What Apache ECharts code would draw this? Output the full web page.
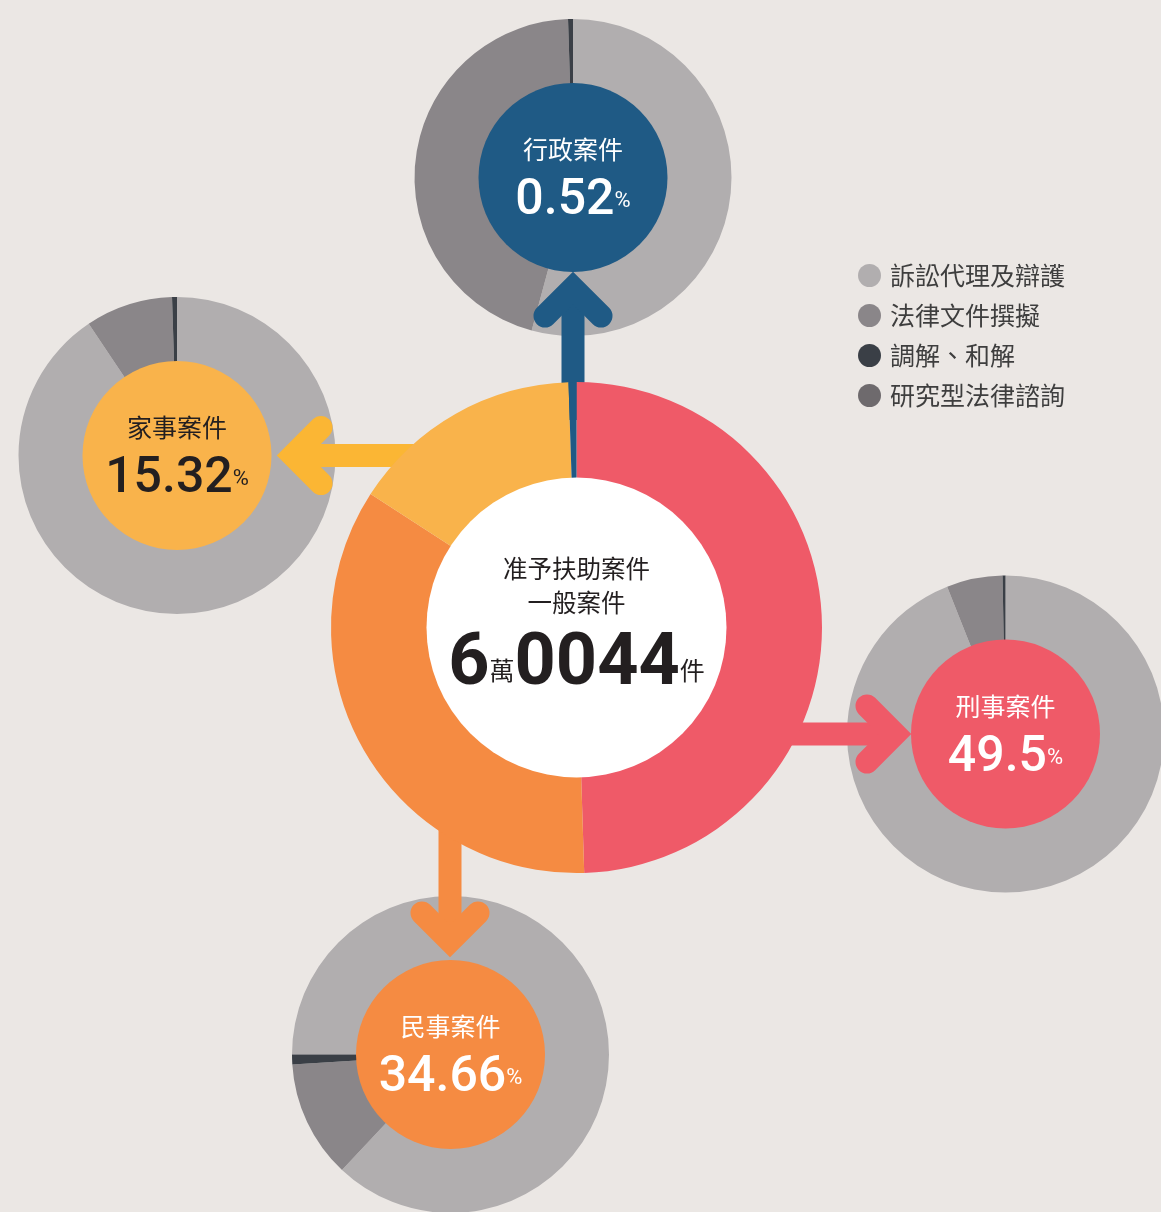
<!DOCTYPE html>
<html>
<head>
<meta charset="utf-8">
<title>准予扶助案件</title>
<script src="https://cdn.jsdelivr.net/npm/echarts@6/dist/echarts.min.js"></script>
<style>
html, body { margin: 0; padding: 0; background: #ebe7e4; }
#main { width: 1161px; height: 1212px; }
</style>
</head>
<body>
<div id="main"></div>
<script>
// 一般案件類型佔比 (%)
const caseTypes = ['刑事案件', '民事案件', '家事案件', '行政案件'];
const caseShares = [49.5, 34.66, 15.32, 0.52];
const totalCases = 60044;

// 各類案件的扶助方式佔比 (%)
const serviceTypes = ['訴訟代理及辯護', '法律文件撰擬', '調解、和解', '研究型法律諮詢'];
const criminalServices = [94.0, 5.7, 0.3, 0];
const civilServices = [87.0, 12.0, 1.0, 0];
const familyServices = [90.6, 8.9, 0.5, 0];
const adminServices = [54.2, 45.3, 0.5, 0];

const cjk = '"Noto Sans CJK TC", "Noto Sans CJK SC", sans-serif';
const num = 'Roboto, "Noto Sans", sans-serif';
const serviceColors = ['#b1aeaf', '#8a8689', '#3a3f46', '#6e6a6d'];
const caseColors = ['#ef5a68', '#f58b42', '#f9b34b', '#1f5a85'];
const arrowColors = ['#ef5a68', '#f58b42', '#fbb634', '#1f5a85'];
const textColors = ['#fff', '#fff', '#231f20', '#fff'];

const mainCenter = [576.5, 627.5];
// one ring per case type, same order as caseTypes
const rings = [
  { center: [1005.5, 734], data: criminalServices, start: 90, from: [700, 734], tip: [895, 734] },
  { center: [450.5, 1054.5], data: civilServices, start: 180, from: [450, 750], tip: [450, 941] },
  { center: [177, 455.5], data: familyServices, start: 90, from: [450, 455.5], tip: [293, 455.5] },
  { center: [573, 177.5], data: adminServices, start: 90, from: [573, 420], tip: [573, 288] }
];

const chart = echarts.init(document.getElementById('main'));

const series = [];
rings.forEach(function (r, i) {
  series.push({
    type: 'pie',
    z: 1,
    silent: true,
    center: r.center,
    radius: [90, 158.5],
    startAngle: r.start,
    clockwise: true,
    label: { show: false },
    labelLine: { show: false },
    data: serviceTypes.map(function (n, k) {
      return { name: n, value: r.data[k], itemStyle: { color: serviceColors[k] } };
    })
  });
  series.push({
    type: 'pie',
    z: 6,
    silent: true,
    center: r.center,
    radius: [0, 94.5],
    labelLine: { show: false },
    label: {
      show: true,
      position: 'center',
      formatter: '{t|' + caseTypes[i] + '}\n{n|' + caseShares[i] + '}{p|%}',
      rich: {
        t: { fontFamily: cjk, fontSize: 25, lineHeight: 48, color: textColors[i] },
        n: { fontFamily: num, fontSize: 50, fontWeight: 500, lineHeight: 56, color: textColors[i] },
        p: { fontFamily: num, fontSize: 22, lineHeight: 22, verticalAlign: 'bottom', padding: [0, 0, 17, 0], color: textColors[i] }
      }
    },
    data: [{ name: caseTypes[i], value: caseShares[i], itemStyle: { color: caseColors[i] } }]
  });
});

series.push({
  type: 'pie',
  z: 5,
  silent: true,
  center: mainCenter,
  radius: [148, 245.5],
  startAngle: 90,
  clockwise: true,
  label: { show: false },
  labelLine: { show: false },
  data: caseTypes.map(function (n, k) {
    return { name: n, value: caseShares[k], itemStyle: { color: caseColors[k] } };
  })
});

const wan = Math.floor(totalCases / 10000);
const rest = String(totalCases % 10000).padStart(4, '0');
series.push({
  type: 'pie',
  z: 6,
  silent: true,
  center: mainCenter,
  radius: [0, 150],
  labelLine: { show: false },
  label: {
    show: true,
    position: 'center',
    offset: [0, 4.5],
    formatter: '{t|准予扶助案件}\n{t|一般案件}\n{big|' + wan + '}{u|萬}{big|' + rest + '}{u|件}',
    rich: {
      t: { fontFamily: cjk, fontSize: 24.5, lineHeight: 34, color: '#231f20' },
      big: { fontFamily: num, fontSize: 72, fontWeight: 700, lineHeight: 92, color: '#231f20' },
      u: { fontFamily: cjk, fontSize: 25, lineHeight: 25, verticalAlign: 'bottom', padding: [0, 0, 29, 0], color: '#231f20' }
    }
  },
  data: [{ name: '一般案件', value: totalCases, itemStyle: { color: '#ffffff' } }]
});

// arrows from the main ring to each small ring
const graphics = [];
rings.forEach(function (r, i) {
  const dx = Math.sign(r.tip[0] - r.from[0]);
  const dy = Math.sign(r.tip[1] - r.from[1]);
  const a = 28;
  graphics.push({
    type: 'line', z: 3, silent: true,
    shape: { x1: r.from[0], y1: r.from[1], x2: r.tip[0], y2: r.tip[1] },
    style: { stroke: arrowColors[i], lineWidth: 23, lineCap: 'butt' }
  });
  graphics.push({
    type: 'polyline', z: 3, silent: true,
    shape: {
      points: [
        [r.tip[0] - a * dx + a * dy, r.tip[1] - a * dy + a * dx],
        [r.tip[0], r.tip[1]],
        [r.tip[0] - a * dx - a * dy, r.tip[1] - a * dy - a * dx]
      ]
    },
    style: { stroke: arrowColors[i], fill: null, lineWidth: 23, lineCap: 'round', lineJoin: 'miter' }
  });
});

const option = {
  backgroundColor: '#ebe7e4',
  animation: false,
  legend: {
    data: serviceTypes,
    orient: 'vertical',
    left: 858,
    top: 263,
    padding: 0,
    icon: 'circle',
    itemWidth: 23,
    itemHeight: 23,
    itemGap: 15,
    selectedMode: false,
    textStyle: { fontFamily: cjk, fontSize: 25, lineHeight: 24, color: '#3e3e3e', padding: [0, 0, 0, 4] }
  },
  graphic: graphics,
  series: series
};

chart.setOption(option);
</script>
</body>
</html>
